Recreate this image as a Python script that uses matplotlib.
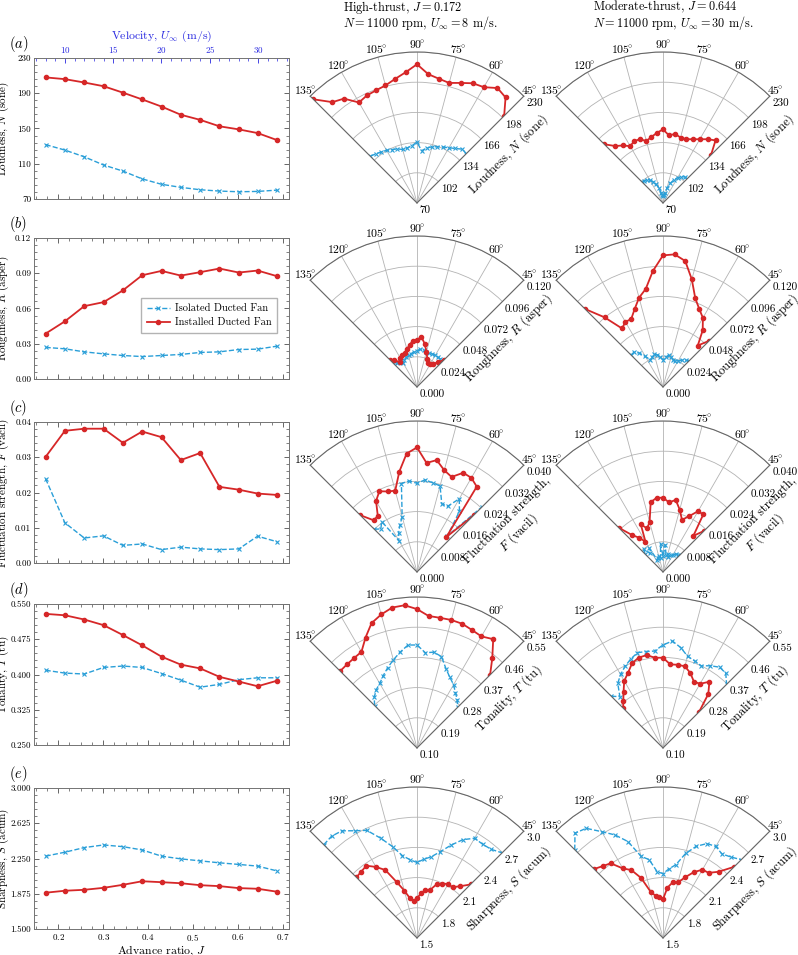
import numpy as np
import matplotlib
matplotlib.use("Agg")
import matplotlib.pyplot as plt
from matplotlib.ticker import AutoMinorLocator, FormatStrFormatter
from matplotlib.transforms import ScaledTranslation

plt.rcParams.update({
    "font.family": ["cmr10", "DejaVu Serif"],
    "mathtext.fontset": "cm",
    "axes.formatter.use_mathtext": True,
    "font.size": 8,
    "axes.unicode_minus": False,
})

RED = "#d62728"
BLUE = "#2a9fd8"

# ---- sweep data (left column) ----
J = [0.172, 0.215, 0.258, 0.301, 0.344, 0.387, 0.430, 0.473, 0.516, 0.559, 0.602, 0.644, 0.688]
VELOCITY = [8, 10, 12, 14, 16, 18, 20, 22, 24, 26, 28, 30, 32]

loud_iso = [131.7, 125.5, 117.9, 108.6, 101.7, 92.8, 86.7, 83.2, 80.5, 79.0, 78.2, 78.6, 80.1]
loud_inst = [208.0, 206.0, 202.2, 198.0, 190.7, 183.0, 174.9, 165.6, 159.8, 152.5, 149.0, 144.8, 136.7]
rough_iso = [0.0269, 0.0257, 0.0231, 0.0214, 0.0200, 0.0191, 0.0200, 0.0209, 0.0226, 0.0231, 0.0251, 0.0254, 0.0280]
rough_inst = [0.0386, 0.0491, 0.0620, 0.0654, 0.0754, 0.0883, 0.0920, 0.0880, 0.0909, 0.0940, 0.0906, 0.0923, 0.0874]
fluct_iso = [0.0239, 0.0114, 0.0071, 0.0077, 0.0050, 0.0054, 0.0038, 0.0045, 0.0040, 0.0038, 0.0040, 0.0076, 0.0060]
fluct_inst = [0.0301, 0.0375, 0.0381, 0.0381, 0.0341, 0.0373, 0.0357, 0.0292, 0.0312, 0.0216, 0.0208, 0.0197, 0.0193]
tonal_iso = [0.409, 0.403, 0.401, 0.415, 0.418, 0.415, 0.402, 0.388, 0.373, 0.379, 0.389, 0.393, 0.393]
tonal_inst = [0.529, 0.526, 0.517, 0.505, 0.484, 0.462, 0.438, 0.421, 0.413, 0.395, 0.385, 0.375, 0.387]
sharp_iso = [2.275, 2.317, 2.366, 2.394, 2.376, 2.341, 2.275, 2.246, 2.225, 2.204, 2.187, 2.169, 2.117]
sharp_inst = [1.886, 1.907, 1.917, 1.938, 1.970, 2.008, 1.998, 1.987, 1.966, 1.956, 1.935, 1.928, 1.896]

# ---- directivity data (polar columns), emission angle in degrees ----
ANGLES = [135, 130, 125, 120, 115, 110, 105, 100, 95, 90, 85, 80, 75, 70, 65, 60, 55, 50, 45]

N_hi_iso = [140, 138, 136, 134.5, 132.5, 131, 128.7, 129.3, 131, 134.6, 125.6, 129.2, 131.6, 133.4, 135.4, 137.6, 140.5, 144.5, 144]
N_hi_inst = [225.4, 209.5, 205, 193, 195.7, 197, 199, 203.5, 209, 217, 207, 203.7, 201.7, 205.4, 210, 211.7, 218.7, 216, 200.6]
N_mod_iso = [101, 101, 100, 98, 95, 91, 86, 81, 78, 77, 78, 81, 86, 92, 97, 101, 104, 106, 106]
N_mod_inst = [158, 148.8, 144.4, 139.6, 142.2, 142, 138, 141, 144.6, 148, 142, 144.3, 141.8, 142, 144.5, 148, 152.5, 156.6, 142]

R_hi_iso = [0.027, 0.025, 0.024, 0.022, 0.024, 0.025, 0.026, 0.027, 0.028, 0.029, 0.030, 0.030, 0.029, 0.029, 0.029, 0.029, 0.029, 0.029, 0.028]
R_hi_inst = [0.030, 0.028, 0.024, 0.027, 0.028, 0.029, 0.031, 0.034, 0.037, 0.0375, 0.040, 0.035, 0.029, 0.024, 0.021, 0.021, 0.022, 0.026, 0.030]
R_mod_iso = [0.036, 0.036, 0.033, 0.028, 0.024, 0.025, 0.027, 0.026, 0.024, 0.0215, 0.024, 0.0255, 0.025, 0.023, 0.023, 0.024, 0.026, 0.028, 0.029]
R_mod_inst = [0.0877, 0.0723, 0.0568, 0.0597, 0.0597, 0.0659, 0.0735, 0.0791, 0.0925, 0.1046, 0.1058, 0.1017, 0.0885, 0.075, 0.0683, 0.0634, 0.055, 0.043, 0.052]

F_hi_iso = [0.0160, 0.0149, 0.0163, 0.0096, 0.0115, 0.0132, 0.0152, 0.0238, 0.0242, 0.0235, 0.0245, 0.0240, 0.0236, 0.0192, 0.0192, 0.0224, 0.0196, 0.0125, 0.0244]
F_hi_inst = [0.0213, 0.0179, 0.0181, 0.0217, 0.0236, 0.0227, 0.0223, 0.0270, 0.0315, 0.0330, 0.0290, 0.0301, 0.0279, 0.0268, 0.0290, 0.0288, 0.0276, 0.0121, 0.0213]
F_mod_iso = [0.0068, 0.0078, 0.0060, 0.0072, 0.0035, 0.0040, 0.0045, 0.0038, 0.0075, 0.0042, 0.0072, 0.0045, 0.0048, 0.0042, 0.0050, 0.0052, 0.0058, 0.0060, 0.0063]
F_mod_inst = [0.0166, 0.0128, 0.0111, 0.0093, 0.0139, 0.0123, 0.0137, 0.0188, 0.0197, 0.0197, 0.0185, 0.0194, 0.0171, 0.0147, 0.0163, 0.0186, 0.0186, 0.0125, 0.0154]

T_hi_iso = [0.279, 0.298, 0.312, 0.322, 0.338, 0.355, 0.372, 0.390, 0.408, 0.407, 0.385, 0.390, 0.382, 0.352, 0.332, 0.318, 0.300, 0.287, 0.271]
T_hi_inst = [0.424, 0.425, 0.427, 0.431, 0.463, 0.496, 0.512, 0.525, 0.527, 0.514, 0.495, 0.494, 0.495, 0.494, 0.488, 0.484, 0.496, 0.449, 0.408]
T_mod_iso = [0.318, 0.300, 0.335, 0.353, 0.368, 0.382, 0.394, 0.392, 0.390, 0.407, 0.420, 0.404, 0.383, 0.376, 0.370, 0.383, 0.394, 0.391, 0.368]
T_mod_inst = [0.268, 0.284, 0.305, 0.331, 0.347, 0.369, 0.379, 0.381, 0.370, 0.369, 0.350, 0.352, 0.352, 0.338, 0.318, 0.321, 0.341, 0.310, 0.252]

S_hi_iso = [2.81, 2.82, 2.80, 2.73, 2.68, 2.555, 2.44, 2.33, 2.28, 2.25, 2.285, 2.32, 2.386, 2.48, 2.578, 2.644, 2.637, 2.649, 2.696]
S_hi_inst = [2.352, 2.361, 2.377, 2.315, 2.245, 2.093, 1.988, 1.900, 1.872, 1.894, 1.945, 1.984, 1.992, 2.067, 2.097, 2.119, 2.116, 2.172, 2.252]
S_mod_iso = [2.74, 2.86, 2.83, 2.72, 2.63, 2.52, 2.34, 2.29, 2.16, 2.14, 2.19, 2.24, 2.37, 2.47, 2.535, 2.55, 2.52, 2.55, 2.60]
S_mod_inst = [2.469, 2.432, 2.406, 2.298, 2.245, 2.134, 1.976, 1.926, 1.911, 1.884, 2.002, 2.063, 2.071, 2.142, 2.221, 2.284, 2.290, 2.359, 2.500]

ROWS = [
    dict(tag="(a)", label="Loudness, $N$ (sone)", ylim=(70, 230), yfmt="%d", rfmt="%d",
         iso=loud_iso, inst=loud_inst, hi=(N_hi_iso, N_hi_inst), mod=(N_mod_iso, N_mod_inst)),
    dict(tag="(b)", label="Roughness, $R$ (asper)", ylim=(0.0, 0.12), yfmt="%.2f", rfmt="%.3f",
         iso=rough_iso, inst=rough_inst, hi=(R_hi_iso, R_hi_inst), mod=(R_mod_iso, R_mod_inst)),
    dict(tag="(c)", label="Fluctuation strength, $F$ (vacil)", ylim=(0.0, 0.04), yfmt="%.2f", rfmt="%.3f",
         plabel="Fluctuation strength,\n$F$ (vacil)",
         iso=fluct_iso, inst=fluct_inst, hi=(F_hi_iso, F_hi_inst), mod=(F_mod_iso, F_mod_inst)),
    dict(tag="(d)", label="Tonality, $T$ (tu)", ylim=(0.25, 0.55), yfmt="%.3f", rfmt="%.2f",
         rlim=(0.10, 0.55),
         iso=tonal_iso, inst=tonal_inst, hi=(T_hi_iso, T_hi_inst), mod=(T_mod_iso, T_mod_inst)),
    dict(tag="(e)", label="Sharpness, $S$ (acum)", ylim=(1.5, 3.0), yfmt="%.3f", rfmt="%.1f",
         iso=sharp_iso, inst=sharp_inst, hi=(S_hi_iso, S_hi_inst), mod=(S_mod_iso, S_mod_inst)),
]

W, H = 798, 955
fig = plt.figure(figsize=(W / 100, H / 100), dpi=100)

LEFT_X0, LEFT_X1 = 34, 289
ROW_TOPS = [58, 238, 422, 604, 788]
ROW_H = 141
POLAR_ORIGIN_Y = [203, 387, 572, 748, 938]
POLAR_CX = [417, 663]
POLAR_R = 151

u_per_j = VELOCITY[0] / J[0]


def style_cart(ax):
    ax.tick_params(which="both", direction="in", top=True, right=True, labelsize=6.5, colors="0.3",
                   labelcolor="black", pad=2)
    ax.tick_params(which="major", length=3.5, width=0.6)
    ax.tick_params(which="minor", length=2, width=0.5)
    ax.xaxis.set_minor_locator(AutoMinorLocator(4))
    ax.yaxis.set_minor_locator(AutoMinorLocator(5))
    for s in ax.spines.values():
        s.set_color("0.45")
        s.set_linewidth(0.7)


def polar_panel(ax, iso, inst, lo, hi, rfmt, label):
    th = np.radians(ANGLES)
    ax.set_thetamin(45)
    ax.set_thetamax(135)
    ax.plot(th, iso, color=BLUE, ls="--", lw=1.0, marker="x", ms=2.8, mew=0.8)
    ax.plot(th, inst, color=RED, ls="-", lw=1.3, marker="o", ms=3.0)
    ax.set_rlim(lo, hi)
    ax.set_rticks(np.linspace(lo, hi, 6))
    ax.yaxis.set_major_formatter(FormatStrFormatter(rfmt))
    degs = [45, 60, 75, 90, 105, 120, 135]
    ax.set_thetagrids(degs, [r"$%d\!^{\circ}$" % d for d in degs], fontsize=8.5)
    ax.tick_params(axis="x", pad=-5)
    ax.tick_params(axis="y", labelsize=8, pad=-1)
    ax.grid(True, color="0.7", lw=0.6)
    for k in ("polar", "start", "end"):
        ax.spines[k].set_color("0.4")
        ax.spines[k].set_linewidth(0.8)
    off = ScaledTranslation(0.15, -0.15, fig.dpi_scale_trans)
    ax.text(np.radians(45), lo + 0.66 * (hi - lo), label, rotation=45, rotation_mode="anchor",
            ha="center", va="top", fontsize=9, transform=ax.transData + off, clip_on=False,
            linespacing=1.15)


for i, row in enumerate(ROWS):
    top = ROW_TOPS[i]
    ax = fig.add_axes([LEFT_X0 / W, 1 - (top + ROW_H) / H, (LEFT_X1 - LEFT_X0) / W, ROW_H / H])
    ax.plot(J, row["iso"], color=BLUE, ls="--", lw=1.0, marker="x", ms=2.8, mew=0.8,
            label="Isolated Ducted Fan")
    ax.plot(J, row["inst"], color=RED, ls="-", lw=1.3, marker="o", ms=3.0,
            label="Installed Ducted Fan")
    lo, hi = row["ylim"]
    ax.set_ylim(lo, hi)
    ax.set_yticks(np.linspace(lo, hi, 5))
    ax.yaxis.set_major_formatter(FormatStrFormatter(row["yfmt"]))
    ax.set_xticks([0.2, 0.3, 0.4, 0.5, 0.6, 0.7])
    ax.set_ylabel(row["label"], fontsize=8)
    ax.yaxis.set_label_coords(-0.09, 0.5)
    style_cart(ax)
    if i < 4:
        ax.tick_params(labelbottom=False)
    else:
        ax.set_xlabel("Advance ratio, $J$", fontsize=8.5, labelpad=1)
    if i == 0:
        ax.tick_params(top=False, which="both")
        sec = ax.secondary_xaxis("top", functions=(lambda j: j * u_per_j, lambda u: u / u_per_j))
        sec.set_xticks([10, 15, 20, 25, 30])
        sec.xaxis.set_minor_locator(AutoMinorLocator(5))
        sec.tick_params(which="both", direction="in", labelsize=6.5, colors="#2828e0", pad=2)
        sec.tick_params(which="major", length=3.5, width=0.6)
        sec.tick_params(which="minor", length=2, width=0.5)
        sec.set_xlabel(r"Velocity, $U_\infty$ (m/s)", color="#2828e0", fontsize=8.5, labelpad=4)
        sec.spines["top"].set_visible(False)
    if i == 1:
        ax.legend(loc="center right", bbox_to_anchor=(0.975, 0.45), fontsize=7.5, fancybox=False,
                  edgecolor="0.7", framealpha=1, handlelength=2.2, handletextpad=0.5,
                  borderpad=0.55, labelspacing=0.45)
    fig.text(9 / W, 1 - (top - 14) / H, "$" + row["tag"] + "$", fontsize=10.5, va="center", ha="left")

    rlo, rhi = row.get("rlim", row["ylim"])
    # matplotlib fits a partial polar wedge into a square box centred on the wedge
    side = 2 * POLAR_R * np.sin(np.radians(45))
    for c, key in enumerate(("hi", "mod")):
        ox, oy = POLAR_CX[c], POLAR_ORIGIN_Y[i]
        cy = oy - POLAR_R / 2
        pax = fig.add_axes([(ox - side / 2) / W, 1 - (cy + side / 2) / H, side / W, side / H],
                           projection="polar")
        iso, inst = row[key]
        polar_panel(pax, iso, inst, rlo, rhi, row["rfmt"], row.get("plabel", row["label"]))

TITLES = [
    ("High-thrust, $J = 0.172$", r"$N = 11000$ rpm, $U_\infty = 8$ m/s."),
    ("Moderate-thrust, $J = 0.644$", r"$N = 11000$ rpm, $U_\infty = 30$ m/s."),
]
for x0, (l1, l2) in zip((343, 593), TITLES):
    fig.text(x0 / W, 1 - 7 / H, l1, ha="left", va="center", fontsize=8.8)
    fig.text(x0 / W, 1 - 23 / H, l2, ha="left", va="center", fontsize=8.8)

fig.savefig("out.png", dpi=100)
